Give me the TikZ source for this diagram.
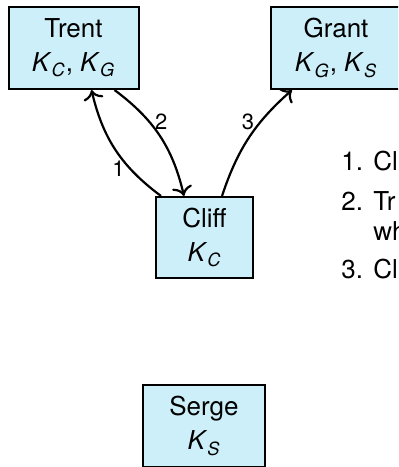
\documentclass[tikz,border=0pt]{standalone}
\usepackage{fontspec}
\setmainfont{TeX Gyre Heros}
\usetikzlibrary{arrows.meta}
\definecolor{keyblue}{RGB}{205,239,249}
\newcommand{\key}[1]{\textit{K}\textsubscript{\textit{#1}}}
\tikzset{
  person/.style={draw,fill=keyblue,line width=1pt,align=center,
    minimum width=65pt,minimum height=41pt,inner sep=2pt,
    font=\fontsize{13}{15}\selectfont},
  msg/.style={line width=1.1pt,-{To[scale=1.2]}},
  msgnum/.style={inner sep=1pt,font=\fontsize{11}{13}\selectfont},
  listtext/.style={anchor=base west,inner sep=0pt,font=\fontsize{13}{15}\selectfont}
}
\begin{document}
\begin{tikzpicture}[x=0.5pt,y=0.5pt]
\useasboundingbox (0,0) rectangle (398,-467);
\clip (0,0) rectangle (398,-467);

\node[person] (trent) at (73.5,-48) {Trent\\[2pt] \key{C}, \key{G}};
\node[person] (grant) at (336,-48) {Grant\\[2pt] \key{G}, \key{S}};
\node[person,minimum width=48.5pt,minimum height=40.5pt] (cliff) at (204.5,-237.5) {Cliff\\[2pt] \key{C}};
\node[person,minimum width=61pt] (serge) at (204,-426) {Serge\\[2pt] \key{S}};

\draw[msg] ([xshift=3pt]cliff.north west) to[bend left=20]
  node[msgnum,pos=.3,left=1.5pt] {1} ([xshift=42pt]trent.south west);
\draw[msg] ([xshift=53.5pt]trent.south west) to[bend left=20]
  node[msgnum,pos=.35,right=1.5pt] {2} ([xshift=14.5pt]cliff.north west);
\draw[msg] ([xshift=33.5pt]cliff.north west) to[bend left=15]
  node[msgnum,pos=.66,left=1.5pt] {3} ([xshift=11pt]grant.south west);

\node[listtext] (num1) at (341,-170) {1.};
\node[listtext] (item1) at (373,-170) {Cl};
\node[listtext] (num2) at (341,-210) {2.};
\node[listtext] (item2) at (373,-210) {Tr};
\node[listtext] (item2b) at (373,-240) {wh};
\node[listtext] (num3) at (341,-278) {3.};
\node[listtext] (item3) at (373,-278) {Cl};
\end{tikzpicture}
\end{document}
